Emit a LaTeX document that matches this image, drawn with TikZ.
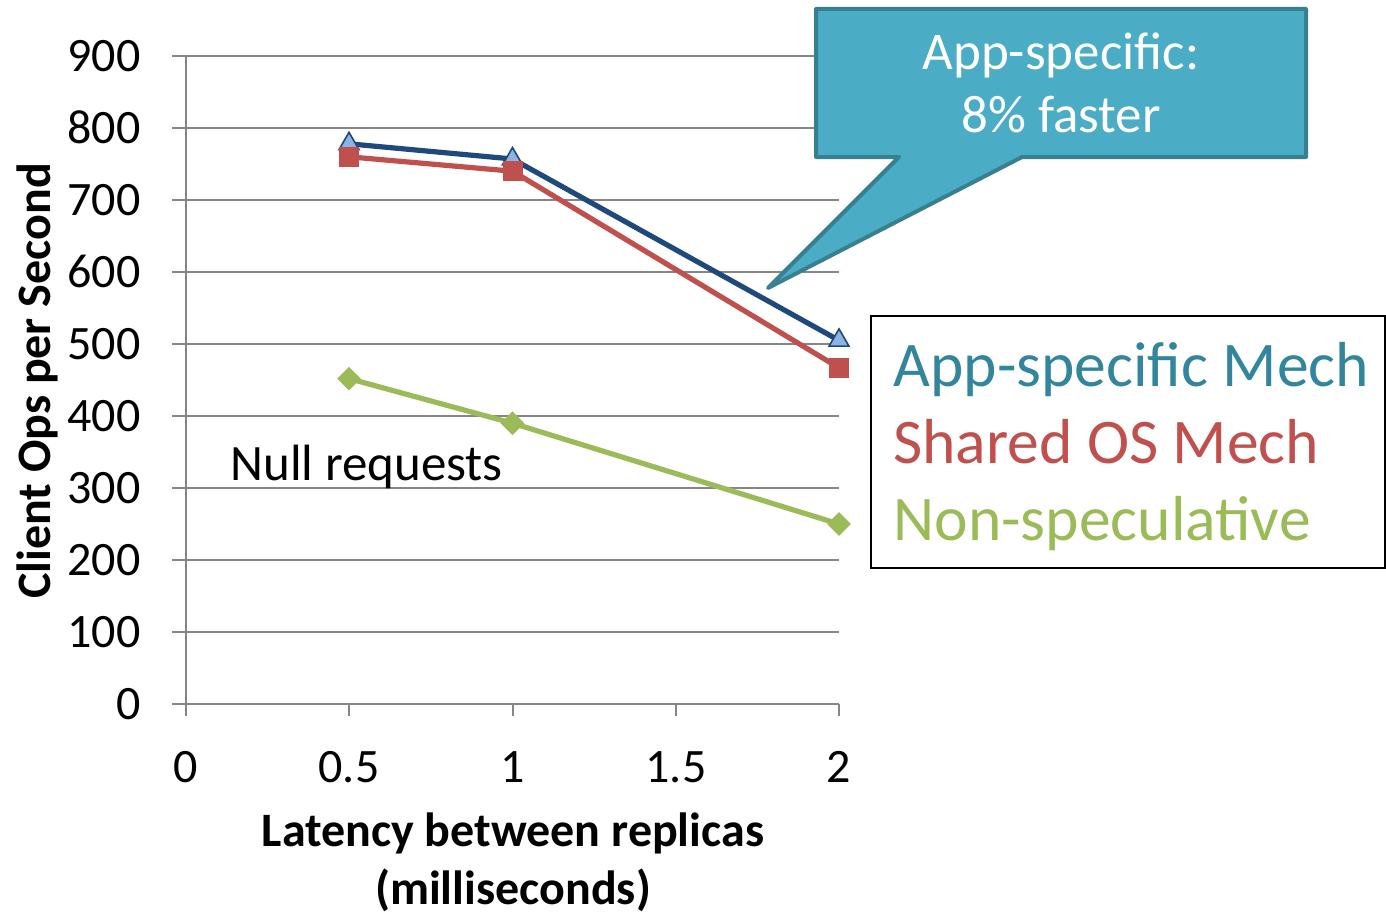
\documentclass[tikz,border=0pt]{standalone}
\usepackage{fontspec}
\setmainfont{Carlito}
\usetikzlibrary{shapes.geometric}

\definecolor{gridgray}{RGB}{134,134,134}
\definecolor{navy}{RGB}{31,73,125}
\definecolor{trifill}{RGB}{141,179,226}
\definecolor{brick}{RGB}{192,80,77}
\definecolor{olive}{RGB}{155,187,89}
\definecolor{tealtext}{RGB}{49,133,156}
\definecolor{callfill}{RGB}{75,172,198}
\definecolor{callline}{RGB}{56,128,144}

\begin{document}
\begin{tikzpicture}[x=0.5pt,y=-0.5pt,
  gridline/.style={draw=gridgray, line width=1pt},
  ticklab/.style={font=\fontsize{24}{29}\selectfont, inner sep=0pt},
  axtitle/.style={font=\fontsize{24}{29}\selectfont\bfseries, inner sep=0pt},
  legtext/.style={font=\fontsize{31.8}{38}\selectfont, inner sep=0pt, anchor=base west},
  calltext/.style={font=\fontsize{26.5}{32}\selectfont, text=white, inner sep=0pt, anchor=base},
  series/.style={line width=2.6pt, line join=round},
  trimark/.style={regular polygon, regular polygon sides=3, fill=trifill, draw=navy,
    line width=0.8pt, minimum size=11.5pt, inner sep=0pt},
  sqmark/.style={rectangle, fill=brick, minimum size=10pt, inner sep=0pt},
  dmmark/.style={diamond, fill=olive, minimum size=12pt, inner sep=0pt},
]
\useasboundingbox (0,0) rectangle (1386,915);

% horizontal grid lines with their left tick stubs
\foreach \v in {100,200,...,900}
  \draw[gridline] (172,{704-0.72*\v}) -- (839,{704-0.72*\v});
% axes
\draw[gridline] (172,704) -- (839,704);
\draw[gridline] (186,56) -- (186,716);
\foreach \xx in {349,512.5,676,839}
  \draw[gridline] (\xx,704) -- (\xx,716);

% y tick labels
\foreach \v in {0,100,...,900}
  \node[ticklab, anchor=base east] (ylab\v) at (141,{704-0.72*\v+15.5}) {\v};
% x tick labels
\node[ticklab, anchor=base] (xlab0) at (186,782) {0};
\node[ticklab, anchor=base] (xlab1) at (349,782) {0.5};
\node[ticklab, anchor=base] (xlab2) at (512.5,782) {1};
\node[ticklab, anchor=base] (xlab3) at (676,782) {1.5};
\node[ticklab, anchor=base] (xlab4) at (839,782) {2};

% axis titles
\node[axtitle, anchor=base] (xtitle1) at (513,846) {Latency between replicas};
\node[axtitle, anchor=base] (xtitle2) at (513,904) {(milliseconds)};
\node[axtitle, anchor=base, rotate=90] (ytitle) at (50,381) {Client Ops per Second};

% data points
\coordinate (a1) at (349,143.8);
\coordinate (a2) at (512.5,159);
\coordinate (a3) at (839,340.4);
\coordinate (s1) at (349,156.8);
\coordinate (s2) at (512.5,171.2);
\coordinate (s3) at (839,367.8);
\coordinate (n1) at (349,378.6);
\coordinate (n2) at (512.5,423.2);
\coordinate (n3) at (839,524);

% App-specific Mech
\draw[series, navy] (a1) -- (a2) -- (a3);
\foreach \p in {a1,a2,a3} \node[trimark] (m\p) at (\p) {};
% Shared OS Mech
\draw[series, brick] (s1) -- (s2) -- (s3);
\foreach \p in {s1,s2,s3} \node[sqmark] (m\p) at (\p) {};
% Non-speculative
\draw[series, olive] (n1) -- (n2) -- (n3);
\foreach \p in {n1,n2,n3} \node[dmmark] (m\p) at (\p) {};

\node[font=\fontsize{25.5}{31}\selectfont, inner sep=0pt, anchor=base west] (null) at (230,480) {Null requests};

% callout
\draw[fill=callfill, draw=callline, line width=2pt, line join=round]
  (816,9) -- (1306,9) -- (1306,157) -- (1022,157) -- (768,288) -- (899,157) -- (816,157) -- cycle;
\node[calltext] (call1) at (1061,70) {App-specific:};
\node[calltext] (call2) at (1061,133) {8\% faster};

% legend
\draw[black, line width=1pt] (871,316) rectangle (1385,568);
\node[legtext, text=tealtext] (leg1) at (893,386) {App-specific Mech};
\node[legtext, text=brick] (leg2) at (893,463) {Shared OS Mech};
\node[legtext, text=olive] (leg3) at (893,540) {Non-speculative};
\end{tikzpicture}
\end{document}
